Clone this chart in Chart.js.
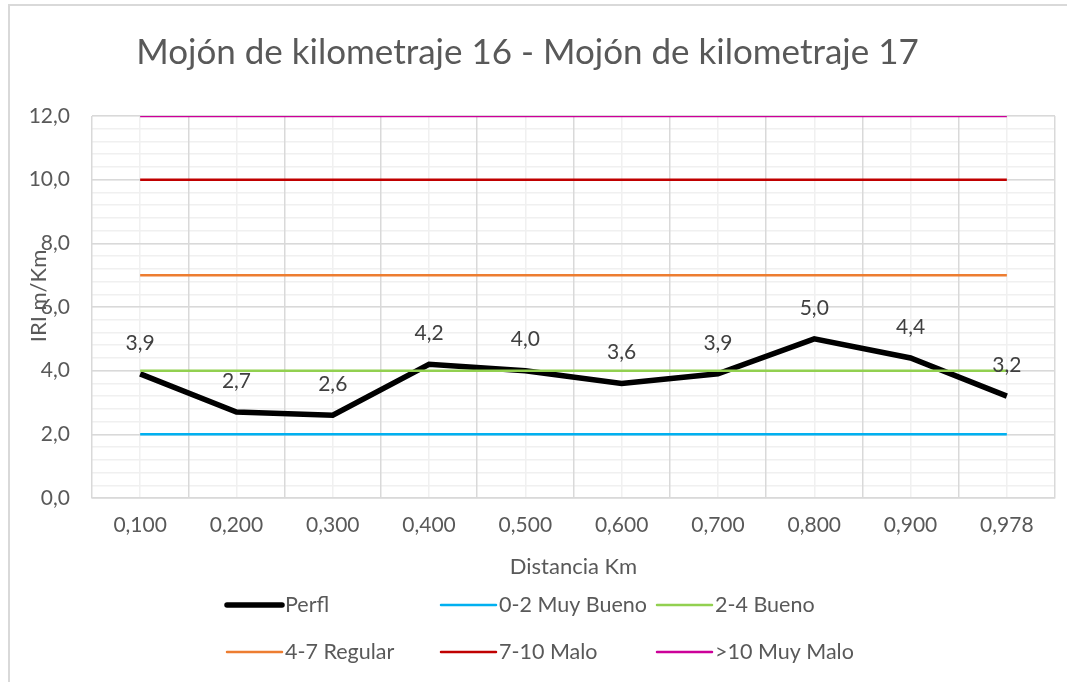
<!DOCTYPE html>
<html>
<head>
<meta charset="utf-8">
<script src="https://cdn.jsdelivr.net/npm/chart.js@4"></script>
<style>
  html, body { margin: 0; padding: 0; background: #fff; }
  #wrap { width: 1067px; height: 682px; }
</style>
</head>
<body>
<div id="wrap"><canvas id="myChart"></canvas></div>
<script>
// x categories (Distancia Km)
const distancias = ["0,100", "0,200", "0,300", "0,400", "0,500", "0,600", "0,700", "0,800", "0,900", "0,978"]
// IRI profile
const perfil = [3.9, 2.7, 2.6, 4.2, 4.0, 3.6, 3.9, 5.0, 4.4, 3.2]
// limit lines
const muyBueno = [2, 2, 2, 2, 2, 2, 2, 2, 2, 2]
const bueno = [4, 4, 4, 4, 4, 4, 4, 4, 4, 4]
const regular = [7, 7, 7, 7, 7, 7, 7, 7, 7, 7]
const malo = [10, 10, 10, 10, 10, 10, 10, 10, 10, 10]
const muyMalo = [12, 12, 12, 12, 12, 12, 12, 12, 12, 12]

const FONT = "Lato, 'Open Sans', sans-serif"
const GREY = "#595959"

function fmt(v, d) {
    return v.toFixed(d).replace(".", ",")
}

// outer frame like the office chart box + y axis title (sits a bit above centre in the original)
const framePlugin = {
    id: "frame",
    beforeDraw(chart) {
        const ctx = chart.ctx
        ctx.save()
        ctx.strokeStyle = "#d9d9d9"
        ctx.lineWidth = 2
        ctx.beginPath()
        ctx.moveTo(9, chart.height)
        ctx.lineTo(9, 5)
        ctx.lineTo(chart.width, 5)
        ctx.stroke()
        ctx.restore()
    },
    afterDraw(chart) {
        const ctx = chart.ctx
        const area = chart.chartArea
        ctx.save()
        ctx.translate(39, (area.top + area.bottom) / 2 - 11)
        ctx.rotate(-Math.PI / 2)
        ctx.font = "22px " + FONT
        ctx.fillStyle = GREY
        ctx.textAlign = "center"
        ctx.textBaseline = "middle"
        ctx.fillText("IRI m/Km", 0, 0)
        ctx.restore()
    }
}

// value labels over the Perfl line
const labelPlugin = {
    id: "valueLabels",
    afterDatasetsDraw(chart) {
        const ctx = chart.ctx
        const meta = chart.getDatasetMeta(0)
        ctx.save()
        ctx.font = "21px " + FONT
        ctx.fillStyle = "#404040"
        ctx.textAlign = "center"
        ctx.textBaseline = "middle"
        meta.data.forEach((pt, i) => {
            ctx.fillText(fmt(perfil[i], 1), pt.x, pt.y - 31)
        })
        ctx.restore()
    }
}

// legend in fixed columns, two rows
const legendPlugin = {
    id: "gridLegend",
    afterDraw(chart) {
        const ctx = chart.ctx
        const cols = [227, 441, 657]
        const rows = [605, 652]
        ctx.save()
        ctx.font = "21.5px " + FONT
        ctx.textBaseline = "middle"
        chart.data.datasets.forEach((ds, i) => {
            const x = cols[i % 3]
            const y = rows[Math.floor(i / 3)]
            ctx.strokeStyle = ds.borderColor
            ctx.lineWidth = i === 0 ? 5.5 : 2.5
            ctx.lineCap = "round"
            ctx.beginPath()
            ctx.moveTo(x, y)
            ctx.lineTo(x + 55, y)
            ctx.stroke()
            ctx.fillStyle = GREY
            ctx.fillText(ds.label, x + 58, y)
        })
        ctx.restore()
    }
}

function limitLine(label, data, color) {
    return {
        label: label,
        data: data,
        borderColor: color,
        backgroundColor: color,
        borderWidth: 2.5,
        pointRadius: 0,
        tension: 0,
        order: 1
    }
}

const ctx = document.getElementById("myChart")
const myChart = new Chart(ctx, {
    type: "line",
    data: {
        labels: distancias,
        datasets: [
            {
                label: "Perfl",
                data: perfil,
                borderColor: "#000000",
                backgroundColor: "#000000",
                borderWidth: 5.5,
                pointRadius: 0,
                tension: 0,
                order: 2
            },
            limitLine("0-2 Muy Bueno", muyBueno, "#00b0f0"),
            limitLine("2-4 Bueno", bueno, "#92d050"),
            limitLine("4-7 Regular", regular, "#ed7d31"),
            limitLine("7-10 Malo", malo, "#c00000"),
            limitLine(">10 Muy Malo", muyMalo, "#cc0099"),
        ]
    },
    options: {
        responsive: true,
        maintainAspectRatio: false,
        animation: false,
        layout: {
            padding: { left: 0, right: 12, top: 0, bottom: 94 }
        },
        scales: {
            x: {
                type: "category",
                offset: true,
                grid: { color: "#d9d9d9", lineWidth: 1.5, offset: true, drawTicks: false, z: -1 },
                border: { color: "#d9d9d9", width: 1.5 },
                ticks: { color: GREY, font: { family: FONT, size: 21 }, padding: 15, maxRotation: 0 },
                title: {
                    display: true,
                    text: "Distancia Km",
                    color: GREY,
                    font: { family: FONT, size: 22 },
                    padding: { top: 0, bottom: 8 }
                },
                afterFit(scale) { scale.height = 90 }
            },
            xMinor: {
                type: "category",
                position: "bottom",
                offset: true,
                grid: { color: "#f0f0f0", lineWidth: 1.5, offset: false, drawTicks: false, z: -2 },
                border: { display: false },
                ticks: { display: false },
                afterFit(scale) { scale.height = 0 }
            },
            y: {
                min: 0,
                max: 12,
                ticks: {
                    stepSize: 2,
                    color: GREY,
                    font: { family: FONT, size: 21 },
                    padding: 22,
                    callback: v => fmt(v, 1)
                },
                grid: { color: "#d9d9d9", lineWidth: 1.5, drawTicks: false, z: -1 },
                border: { display: false },
                afterFit(scale) { scale.width = 92 }
            },
            yMinor: {
                position: "left",
                min: 0,
                max: 12,
                ticks: { display: false, stepSize: 0.4 },
                grid: { color: "#f0f0f0", lineWidth: 1.5, drawTicks: false, z: -2 },
                border: { display: false },
                afterFit(scale) { scale.width = 0 }
            }
        },
        plugins: {
            title: {
                display: true,
                text: "Mojón de kilometraje 16 - Mojón de kilometraje 17",
                color: GREY,
                font: { family: FONT, size: 35, weight: "normal" },
                padding: { top: 32, bottom: 42 }
            },
            legend: { display: false },
            tooltip: { enabled: false }
        }
    },
    plugins: [framePlugin, labelPlugin, legendPlugin]
})
</script>
</body>
</html>
